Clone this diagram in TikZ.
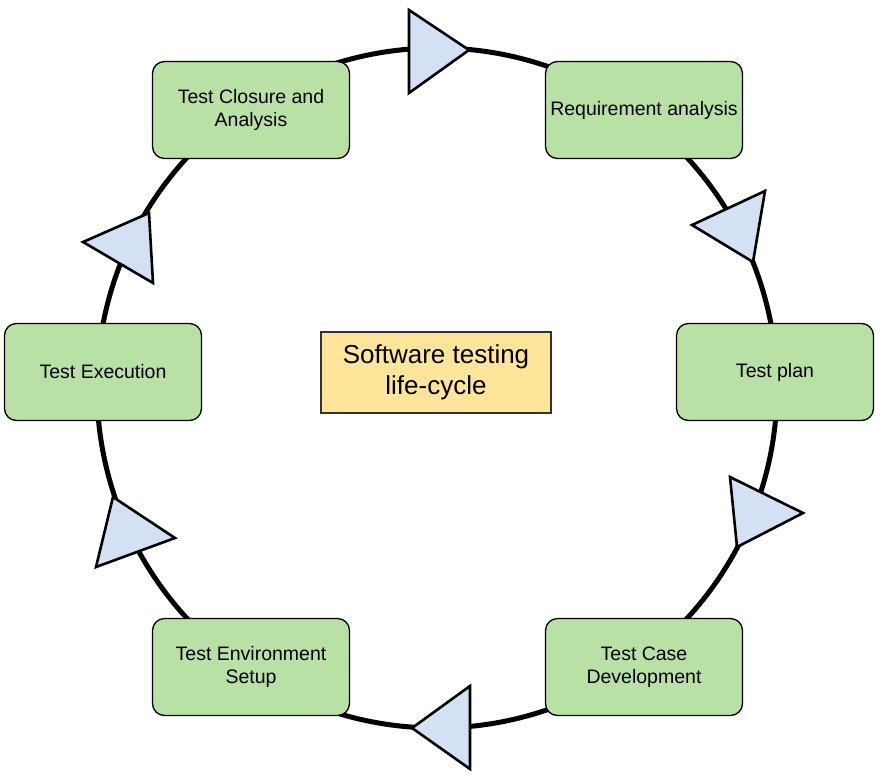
\documentclass[tikz,border=0pt]{standalone}
\usepackage{fontspec}
\setmainfont{Liberation Sans}
\definecolor{stagegreen}{HTML}{B9E0A5}
\definecolor{titleorange}{HTML}{FFE599}
\definecolor{tipblue}{HTML}{D4E1F5}
\tikzset{
	stage/.style={draw=black, line width=1.3pt, fill=stagegreen, rounded corners=12pt,
		minimum width=197pt, minimum height=97pt, align=center, inner sep=2pt,
		font=\fontsize{19.5}{22.5}\selectfont},
	title/.style={draw=black!80, line width=1.3pt, fill=titleorange,
		minimum width=230pt, minimum height=81pt, align=center,
		font=\fontsize{26}{31.5}\selectfont},
	tipmark/.style={draw=black, line width=2.6pt, fill=tipblue, line join=miter}
}
\begin{document}
\begin{tikzpicture}[x=1pt, y=-1pt]
	\useasboundingbox (0, 0) rectangle (880, 774);
	\draw[line width=5pt] (437, 388) circle [radius=340];

	\foreach \ax/\ay/\bx/\by/\cx/\cy in {409/10/409/93/469/50, 765/191/692/225/753/262,
		730/477/803/513/737/547, 470/686/412/728/470/769,
		113/497/175/538/96/567, 149/213/83/242/153/283}{
		\filldraw[tipmark] (\ax, \ay) -- (\bx, \by) -- (\cx, \cy) -- cycle;
	}

	\foreach \x/\y/\n/\t in {251/110/close/{Test Closure and\\Analysis},
		644/110/req/{Requirement analysis}, 775/372/plan/{Test plan},
		644/667/dev/{Test Case\\Development}, 251/667/env/{Test Environment\\Setup},
		103/372/exec/{Test Execution}}{
		\node[stage] (\n) at (\x, \y) {\t};
	}

	\node[title] (stlc) at (436, 372.5) {Software testing\\life-cycle};
\end{tikzpicture}
\end{document}
